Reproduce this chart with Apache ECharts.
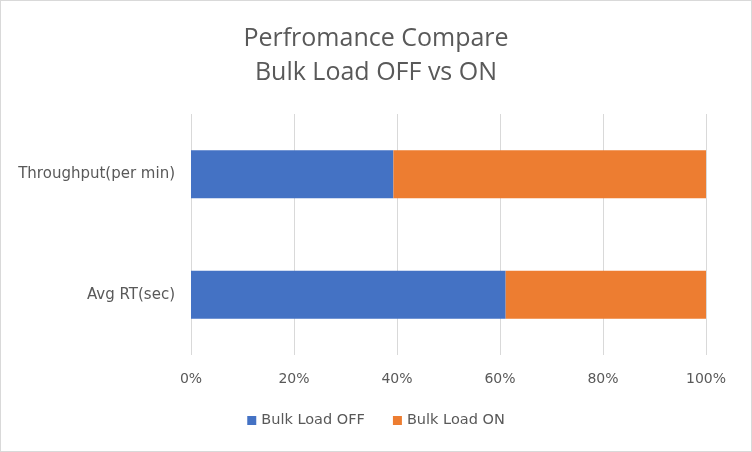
<!DOCTYPE html>
<html><head><meta charset="utf-8">
<script src="https://cdn.jsdelivr.net/npm/echarts@6/dist/echarts.min.js"></script>
<style>html,body{margin:0;padding:0;background:#fff}#c{width:750px;height:450px;border:1px solid #d9d9d9}</style>
</head><body><div id="c"></div>
<script>
const categories = ['Avg RT(sec)', 'Throughput(per min)'];
const offValues = [61.1, 39.3];
const onValues = [38.9, 60.7];
const tickLabels = ['0%', '20%', '40%', '60%', '80%', '100%'];
const chart = echarts.init(document.getElementById('c'));
const lblFont = 'DejaVu Sans';
chart.setOption({
  animation: false,
  title: {
    text: 'Perfromance Compare\nBulk Load OFF vs ON',
    left: 'center', top: 16,
    textStyle: {fontFamily: 'Open Sans', fontSize: 25, fontWeight: 'normal', color: '#595959', lineHeight: 34}
  },
  legend: {
    bottom: 18, left: 'center', itemWidth: 9, itemHeight: 9, itemGap: 28, icon: 'rect',
    textStyle: {fontFamily: lblFont, fontSize: 14.5, color: '#595959'},
    data: ['Bulk Load OFF', 'Bulk Load ON']
  },
  grid: {left: 190, right: 45, top: 113, bottom: 96},
  xAxis: {
    type: 'value', min: 0, max: 100, interval: 20,
    axisLabel: {formatter: v => tickLabels[v / 20], fontFamily: lblFont, fontSize: 14, color: '#595959', margin: 17},
    splitLine: {lineStyle: {color: '#d9d9d9'}},
    axisLine: {show: false}, axisTick: {show: false}
  },
  yAxis: {
    type: 'category', data: categories,
    axisLabel: {fontFamily: lblFont, fontSize: 15, color: '#595959', margin: 16},
    axisLine: {show: false}, axisTick: {show: false}
  },
  series: [
    {name: 'Bulk Load OFF', type: 'bar', stack: 'a', data: offValues, barWidth: '40%', itemStyle: {color: '#4472c4'}},
    {name: 'Bulk Load ON', type: 'bar', stack: 'a', data: onValues, barWidth: '40%', itemStyle: {color: '#ed7d31'}}
  ]
});
</script></body></html>
